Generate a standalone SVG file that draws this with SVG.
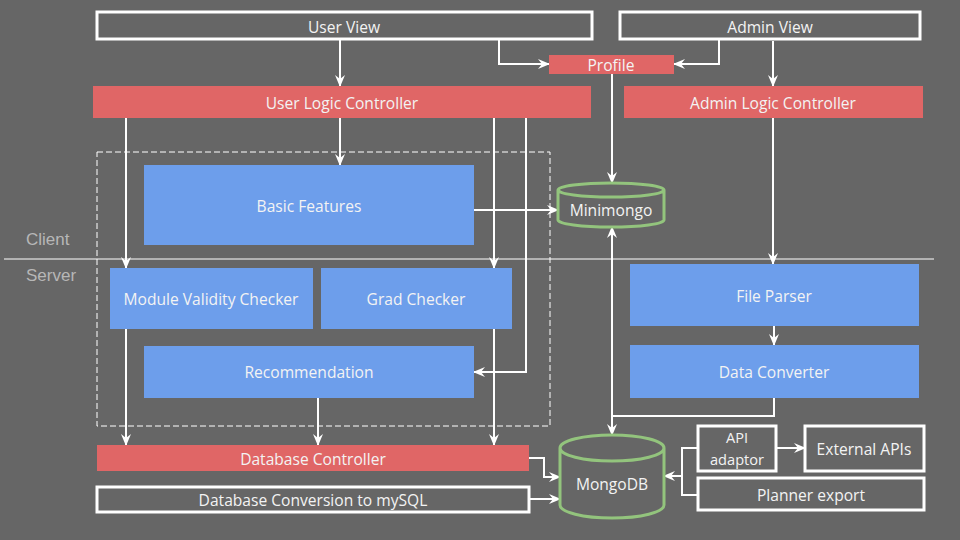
<svg xmlns="http://www.w3.org/2000/svg" width="960" height="540" viewBox="0 0 960 540">
<defs>
<style>
.t{font-family:"Open Sans","Noto Sans",sans-serif;font-size:15.6px;fill:#f3f3f3;text-anchor:middle;dominant-baseline:central}
.s{font-size:14.6px}
.red{fill:#e06666}
.blue{fill:#6d9eeb}
.out{fill:#666666;stroke:#ffffff;stroke-width:3}
.cyl{fill:#666666;stroke:#93c47d;stroke-width:3}
.c{fill:none;stroke:#ffffff;stroke-width:2}
.a{marker-end:url(#arr)}
.lbl{font-family:"Liberation Sans",Arial,sans-serif;font-size:17px;fill:#b7b7b7}
</style>
<marker id="arr" markerUnits="userSpaceOnUse" markerWidth="12" markerHeight="10" refX="11" refY="5" orient="auto">
<path d="M0,0 L12,5 L0,10 L4,5 Z" fill="#ffffff"/>
</marker>
</defs>
<rect width="960" height="540" fill="#666666"/>
<rect x="97" y="152" width="453" height="274" fill="none" stroke="#ffffff" stroke-width="1" stroke-dasharray="6,3"/>
<line x1="4" y1="259" x2="934" y2="259" stroke="#ffffff" stroke-width="1"/>
<text class="lbl" x="26" y="245">Client</text>
<text class="lbl" x="26" y="281">Server</text>
<g id="connectors">
<path class="c a" d="M340,40 V86"/>
<path class="c a" d="M499,40 V64 H549"/>
<path class="c a" d="M719,40 V64 H674"/>
<path class="c a" d="M773,41 V86"/>
<path class="c a" d="M612,74 V183"/>
<path class="c a" d="M340,118 V165"/>
<path class="c a" d="M126,118 V268"/>
<path class="c a" d="M494,118 V268"/>
<path class="c a" d="M526,118 V372 H474"/>
<path class="c a" d="M474,210 H558"/>
<path class="c a" d="M773,118 V264"/>
<path class="c a" d="M774,326 V345"/>
<path class="c a" d="M774,398 V416 H612 V435"/>
<path class="c a" d="M612,420 V227"/>
<path class="c a" d="M126,329 V445"/>
<path class="c a" d="M318,398 V445"/>
<path class="c a" d="M494,329 V445"/>
<path class="c a" d="M529,458 H544 V477 H560"/>
<path class="c a" d="M529,499 H560"/>
<path class="c a" d="M776,448 H805"/>
<path class="c" d="M698,448 H682 V495 H698"/>
<path class="c a" d="M682,476 H664"/>
</g>
<g id="user-view"><rect class="out" x="97" y="12" width="495" height="27"/><text class="t" x="344" y="27">User View</text></g>
<g id="admin-view"><rect class="out" x="620" y="12" width="300" height="27"/><text class="t" x="770" y="27">Admin View</text></g>
<g id="profile"><rect class="red" x="549" y="55" width="125" height="19"/><text class="t" x="611" y="65">Profile</text></g>
<g id="user-logic-controller"><rect class="red" x="93" y="86" width="498" height="32"/><text class="t" x="342" y="103">User Logic Controller</text></g>
<g id="admin-logic-controller"><rect class="red" x="624" y="86" width="299" height="32"/><text class="t" x="773" y="103">Admin Logic Controller</text></g>
<g id="basic-features"><rect class="blue" x="144" y="165" width="330" height="80"/><text class="t" x="309" y="206">Basic Features</text></g>
<g id="minimongo"><path class="cyl" d="M558,190 A53,7 0 0 1 664,190 V220 A53,7 0 0 1 558,220 Z M558,190 A53,7 0 0 0 664,190"/><text class="t" x="611" y="210">Minimongo</text></g>
<g id="module-validity-checker"><rect class="blue" x="110" y="268" width="203" height="61"/><text class="t" x="211" y="299">Module Validity Checker</text></g>
<g id="grad-checker"><rect class="blue" x="321" y="268" width="191" height="61"/><text class="t" x="416" y="299">Grad Checker</text></g>
<g id="recommendation"><rect class="blue" x="144" y="346" width="330" height="52"/><text class="t" x="309" y="372">Recommendation</text></g>
<g id="file-parser"><rect class="blue" x="630" y="264" width="289" height="62"/><text class="t" x="774" y="296">File Parser</text></g>
<g id="data-converter"><rect class="blue" x="630" y="345" width="289" height="53"/><text class="t" x="774" y="372">Data Converter</text></g>
<g id="database-controller"><rect class="red" x="97" y="445" width="432" height="26"/><text class="t" x="313" y="459">Database Controller</text></g>
<g id="database-conversion"><rect class="out" x="97" y="487" width="432" height="25"/><text class="t" x="313" y="500">Database Conversion to mySQL</text></g>
<g id="mongodb"><path class="cyl" d="M560,448 A52,13 0 0 1 664,448 V505 A52,13 0 0 1 560,505 Z M560,448 A52,13 0 0 0 664,448"/><text class="t" x="612" y="484">MongoDB</text></g>
<g id="api-adaptor"><rect class="out" x="698" y="426" width="78" height="45"/><text class="t s" x="737" y="437">API</text><text class="t s" x="737" y="459">adaptor</text></g>
<g id="external-apis"><rect class="out" x="805" y="426" width="119" height="45"/><text class="t" x="864" y="449">External APIs</text></g>
<g id="planner-export"><rect class="out" x="698" y="478" width="226" height="32"/><text class="t" x="811" y="495">Planner export</text></g>
</svg>
